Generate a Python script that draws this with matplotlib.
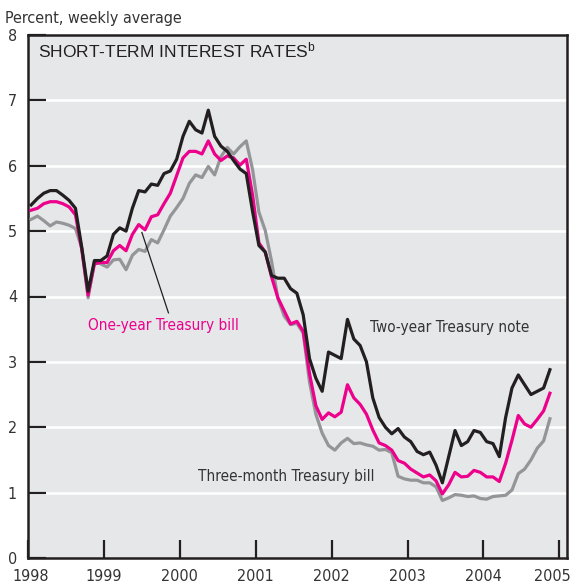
import numpy as np
import matplotlib
matplotlib.use("Agg")
import matplotlib.pyplot as plt
from matplotlib.transforms import ScaledTranslation

# monthly values, Jan 1998 - Nov 2004
two_year = [5.40, 5.50, 5.58, 5.62, 5.62, 5.55, 5.47, 5.35, 4.75, 4.08, 4.55, 4.55,
            4.62, 4.95, 5.05, 5.00, 5.35, 5.62, 5.60, 5.72, 5.70, 5.88, 5.92, 6.10,
            6.45, 6.68, 6.55, 6.50, 6.85, 6.45, 6.30, 6.22, 6.08, 5.95, 5.88, 5.30,
            4.78, 4.68, 4.32, 4.28, 4.28, 4.12, 4.05, 3.72, 3.05, 2.75, 2.55, 3.15,
            3.10, 3.05, 3.65, 3.35, 3.25, 3.00, 2.45, 2.15, 2.00, 1.90, 1.98, 1.85,
            1.78, 1.63, 1.58, 1.62, 1.42, 1.15, 1.55, 1.95, 1.72, 1.78, 1.95, 1.92,
            1.78, 1.75, 1.55, 2.15, 2.60, 2.80, 2.65, 2.50, 2.55, 2.60, 2.88]
one_year = [5.32, 5.35, 5.42, 5.45, 5.45, 5.42, 5.37, 5.25, 4.72, 4.02, 4.50, 4.52,
            4.52, 4.70, 4.78, 4.70, 4.95, 5.10, 5.02, 5.22, 5.25, 5.42, 5.58, 5.85,
            6.12, 6.22, 6.22, 6.18, 6.38, 6.18, 6.08, 6.15, 6.12, 6.01, 6.10, 5.55,
            4.82, 4.68, 4.30, 3.98, 3.78, 3.58, 3.62, 3.47, 2.82, 2.33, 2.12, 2.22,
            2.16, 2.23, 2.65, 2.45, 2.35, 2.20, 1.96, 1.76, 1.72, 1.65, 1.49, 1.45,
            1.36, 1.30, 1.24, 1.27, 1.18, 0.98, 1.12, 1.31, 1.24, 1.25, 1.34, 1.31,
            1.24, 1.24, 1.17, 1.45, 1.80, 2.18, 2.05, 2.00, 2.12, 2.25, 2.52]
three_month = [5.18, 5.23, 5.16, 5.08, 5.14, 5.12, 5.09, 5.04, 4.74, 3.98, 4.53, 4.50,
               4.45, 4.56, 4.57, 4.41, 4.63, 4.72, 4.69, 4.87, 4.82, 5.02, 5.23, 5.36,
               5.50, 5.73, 5.86, 5.82, 5.99, 5.86, 6.14, 6.28, 6.18, 6.29, 6.38, 5.94,
               5.29, 5.01, 4.54, 3.97, 3.70, 3.57, 3.59, 3.44, 2.69, 2.20, 1.91, 1.72,
               1.65, 1.76, 1.83, 1.75, 1.76, 1.73, 1.71, 1.65, 1.66, 1.61, 1.25, 1.21,
               1.19, 1.19, 1.15, 1.15, 1.09, 0.88, 0.92, 0.97, 0.96, 0.94, 0.95, 0.91,
               0.90, 0.94, 0.95, 0.96, 1.04, 1.29, 1.36, 1.50, 1.68, 1.79, 2.13]
years = list(range(1998, 2006))
y_ticks = list(range(0, 9))

start_year = 1998
months = start_year + (np.arange(len(two_year)) + 0.5) / 12

plt.rcParams['font.family'] = ['DejaVu Sans']
plt.rcParams['font.stretch'] = 'condensed'
plt.rcParams['mathtext.fontset'] = 'custom'
plt.rcParams['mathtext.rm'] = 'Liberation Sans'
plt.rcParams['mathtext.default'] = 'regular'

dark = "#231f20"
pink = "#ec008c"
grey = "#939598"
txt = "#333333"

fig = plt.figure(figsize=(5.73, 5.86), dpi=100)
ax = fig.add_axes([28 / 573, 1 - 558 / 586, 539 / 573, 523 / 586])
ax.set_facecolor("#e6e7e8")

for v in y_ticks[1:-1]:
    ax.axhline(v, color="white", lw=1.8, zorder=1)

ax.plot(months, three_month, color=grey, lw=2.3, zorder=3)
ax.plot(months, one_year, color=pink, lw=2.3, zorder=4)
ax.plot(months, two_year, color=dark, lw=2.3, zorder=5)

ax.set_xlim(1998, 2005.1)
ax.set_ylim(0, 8)
ax.set_xticks(years)
ax.set_xticklabels([str(y) for y in years])
ax.set_yticks(y_ticks)
ax.tick_params(axis="both", direction="in", length=13, width=1.6, color=dark,
               labelsize=11.5, labelcolor=txt)
ax.tick_params(axis="y", pad=8, right=False)
ax.tick_params(axis="x", pad=8, top=False)
for s in ax.spines.values():
    s.set_color(dark)
    s.set_linewidth(1.8)

# nudge the end year labels inward like the original
xlabels = ax.get_xticklabels()
xlabels[0].set_transform(xlabels[0].get_transform() + ScaledTranslation(3 / 100, 0, fig.dpi_scale_trans))
xlabels[-1].set_transform(xlabels[-1].get_transform() + ScaledTranslation(-7 / 100, 0, fig.dpi_scale_trans))

ax.text(0.019, 0.958, "SHORT-TERM INTEREST RATES$^{b}$", transform=ax.transAxes,
        family="Liberation Sans", stretch="normal", fontsize=12.5, color=dark,
        va="baseline", ha="left")
fig.text(5 / 573, 1 - 23 / 586, "Percent, weekly average", fontsize=11.5,
         color=txt, va="baseline", ha="left")

ax.text(1999.79, 3.56, "One-year Treasury bill", color=pink, fontsize=11,
        ha="center", va="center")
ax.text(2002.51, 3.52, "Two-year Treasury note", color=txt, fontsize=11,
        ha="left", va="center")
ax.text(2000.24, 1.25, "Three-month Treasury bill", color=txt, fontsize=11,
        ha="left", va="center")
ax.plot([1999.50, 1999.85], [4.98, 3.75], color=dark, lw=0.9, zorder=6)

fig.savefig("out.png", dpi=100)
